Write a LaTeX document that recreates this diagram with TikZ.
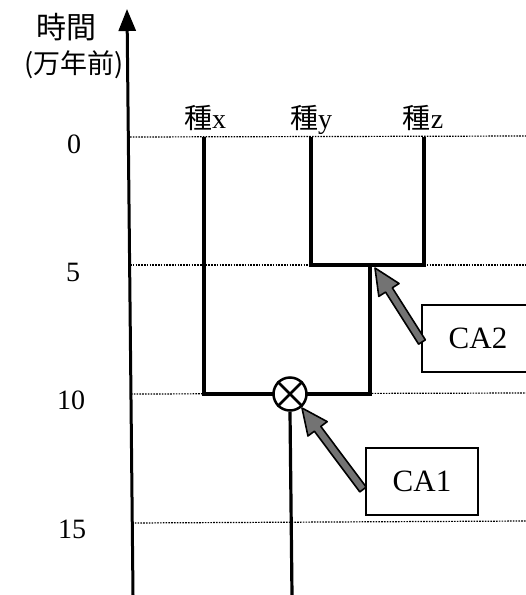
\documentclass[tikz,border=0pt]{standalone}
\usepackage{fontspec}
\setmainfont{Liberation Serif}
\newfontfamily\jp{Noto Sans CJK JP}
\usetikzlibrary{arrows.meta,calc}
\tikzset{
  grid/.style={line width=1.2pt, dash pattern=on 1.6pt off 1.2pt, black},
  tree/.style={line width=3.2pt, line join=miter},
  num/.style={inner sep=0pt, font=\fontsize{28}{28}\selectfont},
  spec/.style={inner sep=0pt, anchor=base, font=\fontsize{28}{28}\selectfont},
  cabox/.style={draw, line width=2pt, minimum width=112pt, minimum height=67pt, inner sep=0pt, font=\fontsize{31}{31}\selectfont},
  blockarrow/.style={fill=black!55, draw=black, line width=1.6pt, line join=round}
}
\newcommand{\blkarrow}[2]{%
  \coordinate (hb) at ($(#2)!26pt!(#1)$);
  \path[blockarrow]
    ($(#1)!4pt!90:(#2)$) -- ($(hb)!4pt!90:(#2)$) --
    ($(hb)!12pt!90:(#2)$) -- (#2) -- ($(hb)!12pt!-90:(#2)$) --
    ($(hb)!4pt!-90:(#2)$) -- ($(#1)!4pt!-90:(#2)$) -- cycle;}
\begin{document}
\begin{tikzpicture}[x=1pt,y=-1pt]
\useasboundingbox (0,0) rectangle (526,595);
\clip (0,0) rectangle (526,595);
% grid lines
\coordinate (g0) at (130,137);
\coordinate (g5) at (130,265);
\coordinate (g10) at (131,394);
\coordinate (g15) at (132,523);
\coordinate (e0) at (526,136);
\coordinate (e5) at (526,265);
\coordinate (e10) at (526,393);
\coordinate (e15) at (526,521);
\draw[grid] (g0) -- (e0);
\draw[grid] (g5) -- (e5);
\draw[grid] (g10) -- (e10);
\draw[grid] (g15) -- (e15);
% axis
\coordinate (abot) at (133,595);
\coordinate (atop) at (127,9);
\draw[line width=3pt, -{Triangle[length=22pt,width=17pt]}] (abot) -- (atop);
% axis labels
\node[inner sep=0pt, font=\jp\fontsize{30}{30}\selectfont] (tl1) at (66,27) {時間};
\node[inner sep=0pt, font=\jp\fontsize{27}{27}\selectfont] (tl2) at (74,65) {(万年前)};
\node[num] (n0) at (74,144) {0};
\node[num] (n5) at (73,272) {5};
\node[num] (n10) at (71,400) {10};
\node[num] (n15) at (72,529) {15};
% species labels
\node[spec] (sx) at (205,128) {{\jp 種}x};
\node[spec] (sy) at (311,128) {{\jp 種}y};
\node[spec] (sz) at (423,128) {{\jp 種}z};
% tree
\coordinate (x0) at (204,137);
\coordinate (y0) at (311,137);
\coordinate (z0) at (424,137);
\coordinate (j2) at (370,265);
\coordinate (j1r) at (370,394);
\draw[tree] (x0) |- (j1r) -- (j2);
\draw[tree] (y0) |- (z0 |- j2) -- (z0);
\node[circle, draw, line width=2.5pt, fill=white, minimum size=33pt, inner sep=0pt] (c) at (290,394) {};
\draw[line width=2.5pt] (c.north west) -- (c.south east) (c.north east) -- (c.south west);
\coordinate (rootb) at (292,595);
\draw[tree] (c.south) -- (rootb);
% boxes
\node[cabox] (ca2) at (478,338) {CA2};
\node[cabox] (ca1) at (422,481.5) {CA1};
\coordinate (ca2t) at ($(ca2.west)+(1,4)$);
\coordinate (ca1t) at ($(ca1.west)+(-2,8)$);
\coordinate (tip2) at (375,268);
\coordinate (tip1) at (302,408);
\blkarrow{ca2t}{tip2}
\blkarrow{ca1t}{tip1}
\end{tikzpicture}
\end{document}
